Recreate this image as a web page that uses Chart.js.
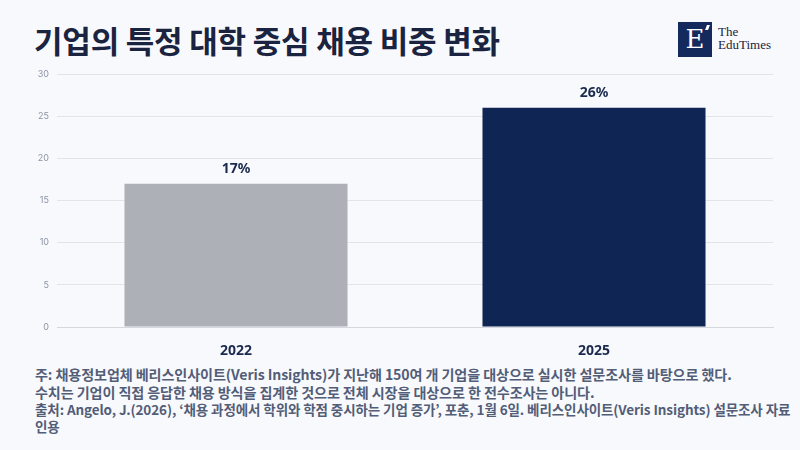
<!DOCTYPE html>
<html>
<head>
<meta charset="utf-8">
<script src="https://cdn.jsdelivr.net/npm/chart.js@4"></script>
<style>
  html, body { margin: 0; padding: 0; }
  body {
    width: 800px; height: 450px; overflow: hidden; position: relative;
    background: #f8f9fc;
    font-family: "Noto Sans CJK KR", "Noto Sans", sans-serif;
  }
  #title {
    position: absolute; left: 34px; top: 17px;
    font-size: 31px; font-weight: 700; color: #1a2340; letter-spacing: -0.2px;
    white-space: nowrap;
  }
  #logo { position: absolute; left: 678px; top: 22px; }
  #logo .box {
    position: absolute; left: 0; top: 0; width: 34px; height: 35px; background: #152a5c;
    color: #fff; font-family: "DejaVu Serif", "Liberation Serif", serif; font-size: 26px;
    line-height: 35px; text-align: center;
  }
  #logo .tick {
    position: absolute; left: 28px; top: 3px; width: 3px; height: 5px; background: #fff;
    transform: skewX(-20deg);
  }
  #logo .name {
    position: absolute; left: 40px; top: 3px; font-family: "Liberation Serif", serif;
    font-size: 13px; line-height: 13px; color: #1a2340; white-space: nowrap;
  }
  #chartBox { position: absolute; left: 0; top: 60px; width: 800px; height: 300px; }
  #notes {
    position: absolute; left: 35px; top: 365px; width: 760px;
    color: #525d78; font-size: 14.1px; font-weight: 700; line-height: 18px;
    letter-spacing: -0.1px; white-space: nowrap;
  }
  #notes .src { font-size: 13.5px; line-height: 17px; }
</style>
</head>
<body>
<div id="title">기업의 특정 대학 중심 채용 비중 변화</div>
<div id="logo">
  <div class="box">E</div><div class="tick"></div>
  <div class="name">The<br>EduTimes</div>
</div>
<div id="chartBox"><canvas id="myChart"></canvas></div>
<div id="notes">
  <div>주: 채용정보업체 베리스인사이트(Veris Insights)가 지난해 150여 개 기업을 대상으로 실시한 설문조사를 바탕으로 했다.</div>
  <div>수치는 기업이 직접 응답한 채용 방식을 집계한 것으로 전체 시장을 대상으로 한 전수조사는 아니다.</div>
  <div class="src">출처: Angelo, J.(2026), ‘채용 과정에서 학위와 학점 중시하는 기업 증가’, 포춘, 1월 6일. 베리스인사이트(Veris Insights) 설문조사 자료<br>인용</div>
</div>
<script>
var years = ['2022', '2025'];
var shares = [17, 26];
var barColors = ['#adb0b7', '#0f2654'];
var yTicks = [0, 5, 10, 15, 20, 25, 30];

var valueLabels = {
    id: 'valueLabels',
    afterDatasetsDraw: function(chart) {
        var ctx = chart.ctx;
        var meta = chart.getDatasetMeta(0);
        ctx.save();
        ctx.font = 'bold 14px "Noto Sans", "Noto Sans CJK KR", sans-serif';
        ctx.fillStyle = '#1b2a4e';
        ctx.textAlign = 'center';
        ctx.textBaseline = 'middle';
        meta.data.forEach(function(bar, i) {
            ctx.fillText(shares[i] + '%', bar.x, bar.y - 15);
        });
        ctx.restore();
    }
};

var ctx = document.getElementById('myChart').getContext('2d');
var myChart = new Chart(ctx, {
    type: 'bar',
    data: {
        labels: years,
        datasets: [{
            label: '비중',
            data: shares,
            backgroundColor: barColors,
            borderWidth: 0,
            categoryPercentage: 1,
            barPercentage: 0.623
        }]
    },
    options: {
        responsive: true,
        maintainAspectRatio: false,
        animation: false,
        layout: { padding: { left: 0, right: 27, top: 14, bottom: 0 } },
        plugins: {
            legend: { display: false },
            tooltip: { enabled: false }
        },
        scales: {
            y: {
                min: 0,
                max: 30,
                afterBuildTicks: function(scale) {
                    scale.ticks = yTicks.map(function(v) { return { value: v }; });
                },
                afterFit: function(scale) { scale.width = 57; },
                border: { display: false },
                grid: { color: '#e1e4ea', drawTicks: false, lineWidth: 1 },
                ticks: {
                    padding: 8,
                    color: '#8a93a5',
                    font: { size: 9, family: 'Inter, "Noto Sans", sans-serif' }
                }
            },
            x: {
                afterFit: function(scale) { scale.height = 33; },
                border: { display: true, color: '#d5d8de' },
                grid: { display: false, drawTicks: false },
                ticks: {
                    padding: 16,
                    color: '#1b2a4e',
                    font: { size: 14, weight: 'bold', family: '"Noto Sans", "Noto Sans CJK KR", sans-serif' }
                }
            }
        }
    },
    plugins: [valueLabels]
});
</script>
</body>
</html>
